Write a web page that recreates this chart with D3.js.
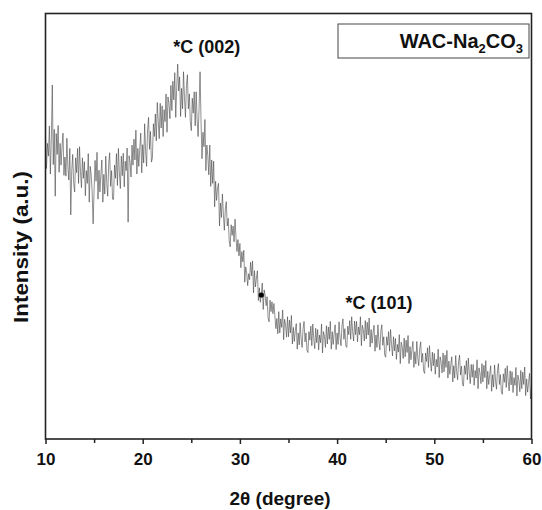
<!DOCTYPE html>
<html>
<head>
<meta charset="utf-8">
<script src="https://cdn.jsdelivr.net/npm/d3@7"></script>
<style>
body{margin:0;background:#fff;}
text{font-family:"Liberation Sans",Arial,sans-serif;font-weight:bold;fill:#111;}
</style>
</head>
<body>
<svg id="chart" width="542" height="510"></svg>
<script>
// 2theta from 10 to 60, step 0.1 deg
var start = 10, step = 0.1;
var intensity = [
 715,635,694,664,735,622,705,831,644,727, // 10
 570,717,668,736,626,694,643,685,718,619, // 11
 662,617,706,640,608,682,526,630,668,600, // 12
 580,660,625,682,600,686,627,590,660,612, // 13
 651,571,630,600,670,556,640,620,580,505, // 14
 586,654,605,673,563,631,580,622,655,556, // 15
 621,575,664,600,570,645,672,593,630,563, // 16
 562,643,612,670,595,682,625,588,664,618, // 17
 671,592,652,630,683,509,665,650,615,690, // 18
 643,704,655,725,622,682,640,683,718,625, // 19
 691,648,740,675,640,725,755,680,722,650, // 20
 660,740,710,763,700,790,745,705,788,730, // 21
 782,710,773,745,810,720,803,787,752,830, // 22
 771,840,796,860,755,826,880,817,850,757, // 23
 823,775,862,800,755,830,855,775,810,745, // 24
 724,800,765,815,735,815,750,710,775,862, // 25
 747,658,720,686,750,630,690,665,620,690, // 26
 593,655,600,652,545,605,560,590,600,500, // 27
 554,520,575,528,490,540,557,500,518,465, // 28
 451,503,478,500,463,516,473,440,468,430, // 29
 459,402,440,416,443,368,404,389,360,388, // 30
 374,415,383,418,343,395,357,378,395,325, // 31
 355,321,338,366,304,350,336,313,334,284, // 32
 275,326,299,322,294,318,289,259,283,247, // 33
 299,249,282,262,303,233,281,268,239,287, // 34
 240,279,249,290,223,262,229,254,271,211, // 35
 249,221,273,235,215,260,276,228,249,208, // 36
 203,252,232,265,219,270,235,212,260,226, // 37
 257,209,244,226,270,202,252,241,215,266, // 38
 223,263,234,276,211,252,222,248,268,210, // 39
 249,222,275,238,219,265,282,234,259,218, // 40
 215,265,245,278,234,287,252,230,277,245, // 41
 276,228,263,245,287,219,267,256,230,278, // 42
 235,274,244,284,216,257,225,249,267,206, // 43
 244,215,268,229,209,253,268,220,240,197, // 44
 192,240,220,252,206,257,222,195,240,207, // 45
 236,187,222,204,245,177,227,216,189,237, // 46
 193,232,203,243,177,217,186,210,229,168, // 47
 205,176,229,191,172,213,228,180,201,160, // 48
 154,202,182,214,168,219,183,159,204,172, // 49
 201,152,187,169,211,144,193,181,155,202, // 50
 158,197,168,208,143,183,152,175,193,134, // 51
 172,143,196,158,139,182,197,150,171,128, // 52
 124,172,152,184,139,190,155,130,175,145, // 53
 175,126,161,143,186,118,167,155,130,177, // 54
 134,173,144,184,118,159,128,152,172,112, // 55
 151,122,174,136,117,161,177,128,151,110, // 56
 105,153,133,166,121,172,136,113,160,127, // 57
 158,109,144,126,168,101,150,138,111,161, // 58
 118,157,128,169,102,141,110,133,154,94,  // 59
 127                                      // 60
];
var majorTicks = [10,20,30,40,50,60];
var minorTicks = [15,25,35,45,55];
var peaks = [
  {label:'*C (002)', x:26.6, y:905},
  {label:'*C (101)', x:44.3, y:305}
];
var dots = [32.2];

var svg = d3.select('#chart');
var left = 45.5, right = 531.5, plotTop = 13.5, bottom = 439;

var x = d3.scaleLinear().domain([10,60]).range([left,right]);
var y = d3.scaleLinear().domain([0,1000]).range([bottom,13]);

var data = intensity.map(function(v,i){ return {t:start+i*step, v:v}; });

var line = d3.line().x(function(d){return x(d.t);}).y(function(d){return y(d.v);});

svg.append('path').datum(data)
  .attr('d',line)
  .attr('fill','none')
  .attr('stroke','#444')
  .attr('stroke-width',0.7)
  .attr('stroke-opacity',0.85);

dots.forEach(function(t){
  var d = data[Math.round((t-start)/step)];
  svg.append('circle').attr('cx',x(d.t)).attr('cy',y(d.v)).attr('r',2.6).attr('fill','#000');
});

// frame
svg.append('rect').attr('x',left).attr('y',plotTop).attr('width',right-left).attr('height',bottom-plotTop)
  .attr('fill','none').attr('stroke','#222').attr('stroke-width',1.6);

// bottom axis
var ax = svg.append('g').attr('transform','translate(0,'+bottom+')');
ax.call(d3.axisBottom(x).tickValues(majorTicks).tickSize(5).tickSizeOuter(0).tickFormat(d3.format('d')));
ax.select('.domain').remove();
ax.selectAll('.tick line').attr('stroke','#222').attr('stroke-width',1.5);
ax.selectAll('.tick text').attr('y',14).attr('dy','0.71em').style('font-size','17px').attr('fill','#111');
var axm = svg.append('g').attr('transform','translate(0,'+bottom+')');
axm.call(d3.axisBottom(x).tickValues(minorTicks).tickSize(4).tickFormat(''));
axm.select('.domain').remove();
axm.selectAll('.tick line').attr('stroke','#222').attr('stroke-width',1.5);

svg.append('text').attr('x',280).attr('y',505).attr('text-anchor','middle')
  .style('font-size','19px').text('2\u03b8 (degree)');

svg.append('text').attr('transform','translate(28,247) rotate(-90)').attr('text-anchor','middle')
  .attr('textLength',152).attr('lengthAdjust','spacingAndGlyphs')
  .style('font-size','20px').text('Intensity (a.u.)');

// peak labels
peaks.forEach(function(p){
  svg.append('text').attr('x',x(p.x)).attr('y',y(p.y)).attr('text-anchor','middle')
    .style('font-size','18px').text(p.label);
});

// legend
svg.append('rect').attr('x',338).attr('y',24).attr('width',191).attr('height',34)
  .attr('fill','#fff').attr('stroke','#444').attr('stroke-width',1);
var lg = svg.append('text').attr('x',523).attr('y',48).attr('text-anchor','end').style('font-size','20px');
lg.append('tspan').text('WAC-Na');
lg.append('tspan').attr('dy',5).style('font-size','13px').text('2');
lg.append('tspan').attr('dy',-5).text('CO');
lg.append('tspan').attr('dy',5).style('font-size','13px').text('3');
</script>
</body>
</html>
